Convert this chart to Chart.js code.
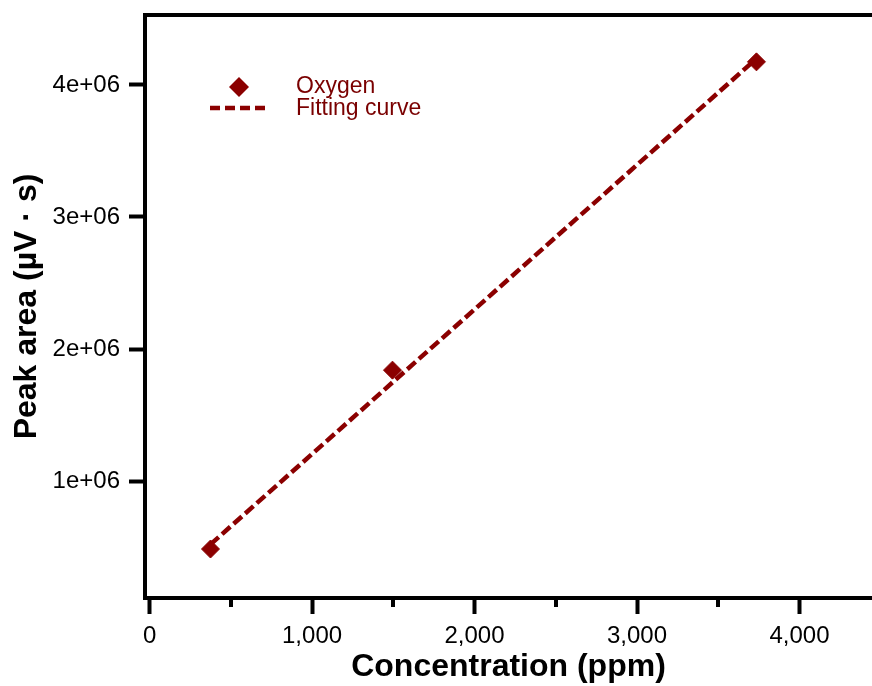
<!DOCTYPE html>
<html>
<head>
<meta charset="utf-8">
<script src="https://cdn.jsdelivr.net/npm/chart.js@4/dist/chart.umd.min.js"></script>
<style>
  html, body { margin: 0; padding: 0; background: #fff; }
  #wrap { width: 872px; height: 686px; }
</style>
</head>
<body>
<div id="wrap"><canvas id="chart" width="872" height="686"></canvas></div>
<script>
// valores
const concentration = [375, 1495, 3735];
const peakArea = [485000, 1840000, 4175000];
const fitX = [375, 3735];
const fitY = [520000, 4200000];
const xTicks = [0, 1000, 2000, 3000, 4000];
const xMinorTicks = [500, 1500, 2500, 3500];
const yTicks = [1000000, 2000000, 3000000, 4000000];
const seriesNames = ["Oxygen", "Fitting curve"];

const rojo = "#8b0000";
const fuente = "'Liberation Sans', Arial, Helvetica, sans-serif";

// quito el relleno automatico que agregan las escalas
function sinRelleno(s) {
    s.paddingTop = 0;
    s.paddingBottom = 0;
    s.paddingLeft = 0;
    s.paddingRight = 0;
}

// borde superior, ticks menores y leyenda
const extras = {
    id: "extras",
    afterDraw(chart) {
        const ctx = chart.ctx;
        const area = chart.chartArea;
        const x = chart.scales.x;
        ctx.save();
        ctx.strokeStyle = "#000";
        ctx.lineWidth = 4;
        ctx.beginPath();
        ctx.moveTo(area.left - 2, area.top);
        ctx.lineTo(area.right, area.top);
        ctx.stroke();
        xMinorTicks.forEach((v) => {
            const px = Math.round(x.getPixelForValue(v));
            ctx.beginPath();
            ctx.moveTo(px, area.bottom + 2);
            ctx.lineTo(px, area.bottom + 9);
            ctx.stroke();
        });
        // leyenda
        ctx.fillStyle = rojo;
        ctx.beginPath();
        ctx.moveTo(229, 87);
        ctx.lineTo(239, 77);
        ctx.lineTo(249, 87);
        ctx.lineTo(239, 97);
        ctx.closePath();
        ctx.fill();
        ctx.strokeStyle = rojo;
        ctx.lineWidth = 4.5;
        ctx.setLineDash([10, 5]);
        ctx.beginPath();
        ctx.moveTo(210, 108);
        ctx.lineTo(268, 108);
        ctx.stroke();
        ctx.setLineDash([]);
        ctx.fillStyle = "#7a0000";
        ctx.font = "23px " + fuente;
        ctx.textBaseline = "middle";
        ctx.fillText(seriesNames[0], 296, 87);
        ctx.fillText(seriesNames[1], 296, 109);
        ctx.restore();
    }
};

new Chart(document.getElementById("chart").getContext("2d"), {
    type: "scatter",
    data: {
        datasets: [
            {
                label: seriesNames[0],
                data: concentration.map((c, i) => ({ x: c, y: peakArea[i] })),
                pointStyle: "rectRot",
                pointRadius: 9,
                backgroundColor: rojo,
                borderColor: rojo,
                borderWidth: 1,
                showLine: false
            },
            {
                label: seriesNames[1],
                data: fitX.map((c, i) => ({ x: c, y: fitY[i] })),
                showLine: true,
                pointRadius: 0,
                borderColor: rojo,
                borderWidth: 4.5,
                borderDash: [11, 4.5],
                fill: false
            }
        ]
    },
    options: {
        responsive: false,
        animation: false,
        devicePixelRatio: 1,
        layout: { autoPadding: false, padding: { top: 15, right: 0, left: 0, bottom: 0 } },
        plugins: {
            legend: { display: false },
            tooltip: { enabled: false }
        },
        scales: {
            x: {
                type: "linear",
                min: -28,
                max: 4446,
                afterFit: (s) => { s.height = 88; sinRelleno(s); },
                afterBuildTicks: (s) => { s.ticks = xTicks.map((v) => ({ value: v })); },
                border: { display: true, width: 4, color: "#000" },
                grid: { drawOnChartArea: false, drawTicks: true, tickLength: 16, tickWidth: 4, tickColor: "#000" },
                ticks: {
                    color: "#000",
                    padding: 8,
                    maxRotation: 0,
                    font: { family: fuente, size: 24 },
                    callback: (v) => v.toLocaleString("en-US")
                },
                title: {
                    display: true,
                    text: "Concentration (ppm)",
                    color: "#000",
                    padding: { top: 0, bottom: 0 },
                    font: { family: fuente, size: 32, weight: "bold" }
                }
            },
            y: {
                type: "linear",
                min: 114000,
                max: 4530000,
                afterFit: (s) => { s.width = 145; sinRelleno(s); },
                afterBuildTicks: (s) => { s.ticks = yTicks.map((v) => ({ value: v })); },
                border: { display: true, width: 4, color: "#000" },
                grid: { drawOnChartArea: false, drawTicks: true, tickLength: 16, tickWidth: 4, tickColor: "#000" },
                ticks: {
                    color: "#000",
                    padding: 9,
                    font: { family: fuente, size: 24 },
                    callback: (v) => (v / 1000000) + "e+06"
                },
                title: {
                    display: true,
                    text: "Peak area (µV · s)",
                    color: "#000",
                    padding: { top: 8, bottom: 0 },
                    font: { family: fuente, size: 32, weight: "bold" }
                }
            }
        }
    },
    plugins: [extras]
});
</script>
</body>
</html>
